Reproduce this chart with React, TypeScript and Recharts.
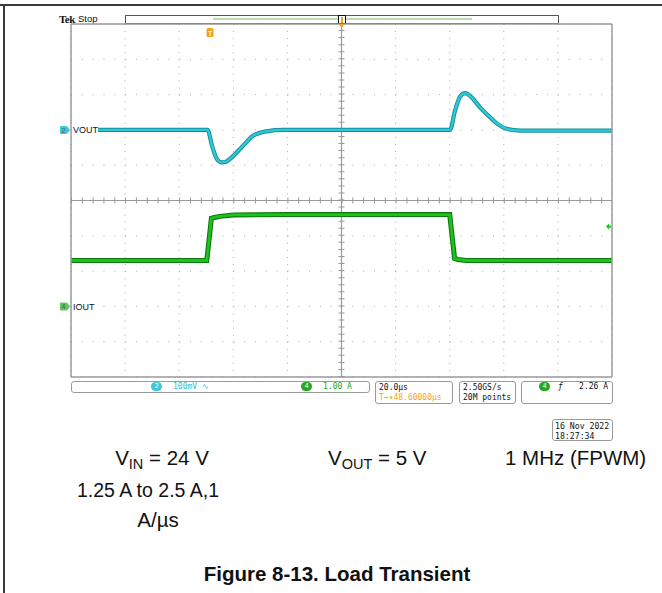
import React from 'react';
import { LineChart, Line, XAxis, YAxis, CartesianGrid, ReferenceLine, ReferenceDot } from 'recharts';

// Time axis in microseconds (20 µs/div, 10 divisions)
const DIV_T = [0, 20, 40, 60, 80, 100, 120, 140, 160, 180, 200];
const MINOR_T = Array.from({ length: 51 }, (_, i) => i * 4);
// Channel 2 vertical divisions (100 mV/div), VOUT offset +2 div
const DIV_V = [-700, -600, -500, -400, -300, -200, -100, 0, 100, 200, 300];
const MINOR_G = Array.from({ length: 51 }, (_, i) => Math.round((-5 + i * 0.2) * 100) / 100);

// Channel 2 : VOUT (AC coupled, deviation in mV, 100 mV/div)
const voutTime = [10, 20, 30, 40, 50.5, 52.1, 53.9, 55.7, 57.3, 59.4, 63.7, 67.4, 72.3, 78.4, 90, 110, 130, 140.1, 142, 143.8, 145.7, 148.1, 151.2, 154.9, 158, 161, 166, 180, 200];
const voutMv = [0, 0, 0, 0, 0, -44, -82, -92, -90, -78, -44, -16, -4, 0, 0, 0, 0, 0, 55, 94, 104, 92, 64, 36, 15, 3, -2, -2, -2];

// Channel 4 : IOUT (A, 1 A/div)
const ioutTime = [0, 25, 50.2, 51.9, 53, 55, 60, 80, 100, 120, 140, 141.8, 143, 146, 170, 200];
const ioutAmp = [1.3, 1.3, 1.3, 2.5, 2.52, 2.55, 2.59, 2.6, 2.6, 2.6, 2.6, 1.36, 1.33, 1.3, 1.3, 1.3];

const TRIGGER_LEVEL = 2.26;
const TRIGGER_TIME = 100 - 48.6;
const V_TOP = 300;
const V_CENTER = -200;

const voutData = voutTime.map((t, i) => ({ t, v: voutMv[i] }));
const ioutData = ioutTime.map((t, i) => ({ t, a: ioutAmp[i] }));

const GRID = '#a8a8a8';
const FRAME = '#9a9a9a';
const CYAN = '#2ec8d6';
const CYAN_D = '#168e9a';
const GREEN = '#1ec21e';
const GREEN_D = '#0b7a0b';
const ORANGE = '#f5a21c';
const MONO = '"DejaVu Sans Mono", "Liberation Mono", monospace';

const ChMarker = (props: any, num: string, color: string, label: string) => {
  const { cx, cy } = props;
  if (cx == null || cy == null) return <g />;
  return (
    <g>
      <rect x={cx - 11} y={cy - 4} width={7} height={8} rx={1} fill={color} />
      <polygon points={`${cx - 4},${cy - 4} ${cx - 1},${cy} ${cx - 4},${cy + 4}`} fill={color} />
      <text x={cx - 7.5} y={cy + 3} fontSize={7} fill="#555" textAnchor="middle" fontFamily="Liberation Sans, Arial">{num}</text>
      <rect x={cx + 1} y={cy - 5} width={label === 'VOUT' ? 26 : 22} height={10} fill="#fff" />
      <text x={cx + 2} y={cy + 3.5} fontSize={9} fill="#111" fontFamily="Liberation Sans, Arial">{label}</text>
    </g>
  );
};

const TrigMarker = (props: any) => {
  const { cx, cy } = props;
  if (cx == null || cy == null) return <g />;
  return (
    <g>
      <rect x={cx - 3.5} y={cy + 4} width={7} height={9} rx={1.5} fill={ORANGE} />
      <text x={cx} y={cy + 11.5} fontSize={7} fontWeight="bold" fill="#fff" textAnchor="middle" fontFamily="Liberation Sans, Arial">T</text>
    </g>
  );
};

const PosMarker = (props: any) => {
  const { cx, cy } = props;
  if (cx == null || cy == null) return <g />;
  return <polygon points={`${cx - 3},${cy} ${cx + 3},${cy} ${cx},${cy + 4}`} fill={ORANGE} />;
};

const LevelMarker = (props: any) => {
  const { cx, cy } = props;
  if (cx == null || cy == null) return <g />;
  return (
    <g>
      <polygon points={`${cx - 6},${cy} ${cx - 3},${cy - 3} ${cx - 3},${cy + 3}`} fill={GREEN} />
      <rect x={cx - 3} y={cy - 1} width={2} height={2} fill={GREEN} />
    </g>
  );
};

const boxStyle = (left: number, top: number, width: number, height: number): React.CSSProperties => ({
  position: 'absolute', left, top, width, height, border: '1px solid #9a9a9a', borderRadius: 3, boxSizing: 'border-box',
  fontFamily: MONO, fontSize: 8, lineHeight: '10px', color: '#111', background: '#fff', whiteSpace: 'nowrap',
});

const Circ = ({ n, color }: { n: string; color: string }) => (
  <span style={{ display: 'inline-block', width: 11, height: 9, borderRadius: 5, background: color, color: '#fff', textAlign: 'center', fontSize: 7, lineHeight: '9px', verticalAlign: 'middle' }}>{n}</span>
);

const axisStyle = { stroke: FRAME, strokeWidth: 1.5 };

export default function App() {
  return (
    <div style={{ position: 'absolute', left: 0, top: 0, width: 662, height: 593, background: '#fff', overflow: 'hidden' }}>
      <div style={{ position: 'absolute', left: 0, top: 4, width: 662, height: 2, background: '#3a3a3a' }} />
      <div style={{ position: 'absolute', left: 3, top: 4, width: 2, height: 589, background: '#3a3a3a' }} />

      {/* Tek Stop */}
      <div style={{ position: 'absolute', left: 59, top: 13, fontFamily: 'Liberation Serif, serif', fontSize: 11, fontWeight: 'bold', color: '#111', letterSpacing: -0.5 }}>Tek</div>
      <div style={{ position: 'absolute', left: 78, top: 13, fontFamily: 'Liberation Sans, Arial', fontSize: 9.5, color: '#111' }}>Stop</div>

      {/* record bar */}
      <div style={{ position: 'absolute', left: 125, top: 15, width: 434, height: 9, border: '1px solid #555', boxSizing: 'border-box', background: '#fff' }} />
      <div style={{ position: 'absolute', left: 213, top: 18, width: 259, height: 2, background: '#b6dfae' }} />
      <div style={{ position: 'absolute', left: 338, top: 15, width: 8, height: 9, border: '1.5px solid #111', boxSizing: 'border-box', background: '#fff' }} />
      <div style={{ position: 'absolute', left: 341, top: 17, width: 2, height: 6, background: ORANGE }} />

      <div style={{ position: 'absolute', left: 0, top: 0 }}>
        <LineChart width={662} height={593} margin={{ top: 24, right: 50, bottom: 216, left: 71 }}>
          <XAxis xAxisId="main" type="number" dataKey="t" domain={[0, 200]} ticks={DIV_T} hide allowDataOverflow />
          <XAxis xAxisId="top" type="number" dataKey="t" orientation="top" mirror domain={[0, 200]} ticks={MINOR_T} interval={0} tick={false} tickSize={3} axisLine={axisStyle} tickLine={{ stroke: FRAME }} allowDataOverflow />
          <XAxis xAxisId="bot" type="number" dataKey="t" orientation="bottom" mirror domain={[0, 200]} ticks={MINOR_T} interval={0} tick={false} tickSize={3} axisLine={axisStyle} tickLine={{ stroke: FRAME }} allowDataOverflow />
          <YAxis yAxisId="v" type="number" domain={[-700, 300]} ticks={DIV_V} hide allowDataOverflow />
          <YAxis yAxisId="i" type="number" domain={[-2, 8]} hide allowDataOverflow />
          <YAxis yAxisId="l" type="number" orientation="left" mirror domain={[-5, 5]} ticks={MINOR_G} interval={0} tick={false} tickSize={3} axisLine={axisStyle} tickLine={{ stroke: FRAME }} allowDataOverflow />
          <YAxis yAxisId="r" type="number" orientation="right" mirror domain={[-5, 5]} ticks={MINOR_G} interval={0} tick={false} tickSize={3} axisLine={axisStyle} tickLine={{ stroke: FRAME }} allowDataOverflow />

          <CartesianGrid xAxisId="main" yAxisId="v" horizontal={false} stroke={GRID} strokeDasharray="1 6.06" />
          <CartesianGrid xAxisId="main" yAxisId="v" vertical={false} stroke={GRID} strokeDasharray="1 9.82" />
          <ReferenceLine xAxisId="main" yAxisId="v" x={100} stroke={FRAME} strokeWidth={1.2} />
          <ReferenceLine xAxisId="main" yAxisId="v" y={V_CENTER} stroke={FRAME} strokeWidth={1.2} />
          <ReferenceLine xAxisId="main" yAxisId="v" x={100} stroke={FRAME} strokeWidth={6} strokeDasharray="1 6.06" />
          <ReferenceLine xAxisId="main" yAxisId="v" y={V_CENTER} stroke={FRAME} strokeWidth={6} strokeDasharray="1 9.82" />

          {/* invisible carriers so the border-tick axes get a scale */}
          <Line xAxisId="top" yAxisId="l" data={ioutData} dataKey="a" stroke="none" dot={false} legendType="none" isAnimationActive={false} />
          <Line xAxisId="bot" yAxisId="r" data={ioutData} dataKey="a" stroke="none" dot={false} legendType="none" isAnimationActive={false} />

          <Line xAxisId="main" yAxisId="i" data={ioutData} dataKey="a" type="linear" stroke={GREEN_D} strokeWidth={5} dot={false} isAnimationActive={false} />
          <Line xAxisId="main" yAxisId="i" data={ioutData} dataKey="a" type="linear" stroke={GREEN} strokeWidth={2.8} dot={false} isAnimationActive={false} />
          <Line xAxisId="main" yAxisId="v" data={voutData} dataKey="v" type="monotone" stroke={CYAN_D} strokeWidth={4.2} dot={false} isAnimationActive={false} />
          <Line xAxisId="main" yAxisId="v" data={voutData} dataKey="v" type="monotone" stroke={CYAN} strokeWidth={2.4} dot={false} isAnimationActive={false} />

          <ReferenceDot xAxisId="main" yAxisId="v" x={0} y={0} shape={(p: any) => ChMarker(p, '2', '#3cc8d8', 'VOUT')} />
          <ReferenceDot xAxisId="main" yAxisId="i" x={0} y={0} shape={(p: any) => ChMarker(p, '4', '#5cc85c', 'IOUT')} />
          <ReferenceDot xAxisId="main" yAxisId="i" x={200} y={TRIGGER_LEVEL} shape={LevelMarker} />
          <ReferenceDot xAxisId="main" yAxisId="v" x={TRIGGER_TIME} y={V_TOP} shape={TrigMarker} />
          <ReferenceDot xAxisId="main" yAxisId="v" x={100} y={V_TOP} shape={PosMarker} />
        </LineChart>
      </div>

      {/* readout bar */}
      <div style={{ ...boxStyle(71, 381, 299, 12) }}>
        <div style={{ position: 'absolute', left: 79, top: 0 }}><Circ n="2" color="#3cc8d8" /></div>
        <div style={{ position: 'absolute', left: 101, top: 0, color: '#2ec0d0' }}>100mV ∿</div>
        <div style={{ position: 'absolute', left: 229, top: 0 }}><Circ n="4" color="#22a822" /></div>
        <div style={{ position: 'absolute', left: 251, top: 0, color: '#1aa51a' }}>1.00 A</div>
      </div>
      <div style={{ ...boxStyle(375, 381, 78, 23), padding: '1px 0 0 3px' }}>
        <div>20.0µs</div>
        <div style={{ color: ORANGE }}>T→▾48.60000µs</div>
      </div>
      <div style={{ ...boxStyle(459, 381, 57, 23), padding: '1px 0 0 3px' }}>
        <div>2.50GS/s</div>
        <div>20M points</div>
      </div>
      <div style={{ ...boxStyle(521, 381, 92, 23) }}>
        <div style={{ position: 'absolute', left: 17, top: 0 }}><Circ n="4" color="#22a822" /></div>
        <div style={{ position: 'absolute', left: 36, top: 0, fontStyle: 'italic' }}>ƒ</div>
        <div style={{ position: 'absolute', right: 4, top: 0 }}>2.26 A</div>
      </div>
      <div style={{ ...boxStyle(552, 419, 61, 22), fontSize: 8.2, padding: '1px 0 0 2px' }}>
        <div>16 Nov 2022</div>
        <div>18:27:34</div>
      </div>

      {/* captions */}
      <svg width={662} height={593} style={{ position: 'absolute', left: 0, top: 0, pointerEvents: 'none' }}>
        <g fontFamily="Liberation Sans, Arial, sans-serif" fontSize={20.5} fill="#111">
          <text x={162} y={465} textAnchor="middle">V<tspan fontSize={14.5} dy={4}>IN</tspan><tspan dy={-4}> = 24 V</tspan></text>
          <text x={328} y={465}>V<tspan fontSize={14.5} dy={4}>OUT</tspan><tspan dy={-4}> = 5 V</tspan></text>
          <text x={505} y={465}>1 MHz (FPWM)</text>
          <text x={148} y={497} textAnchor="middle" fontSize={19.5}>1.25 A to 2.5 A,1</text>
          <text x={158} y={527} textAnchor="middle">A/µs</text>
          <text x={337} y={581} fontWeight="bold" fontSize={20.5} textAnchor="middle">Figure 8-13. Load Transient</text>
        </g>
      </svg>
    </div>
  );
}
